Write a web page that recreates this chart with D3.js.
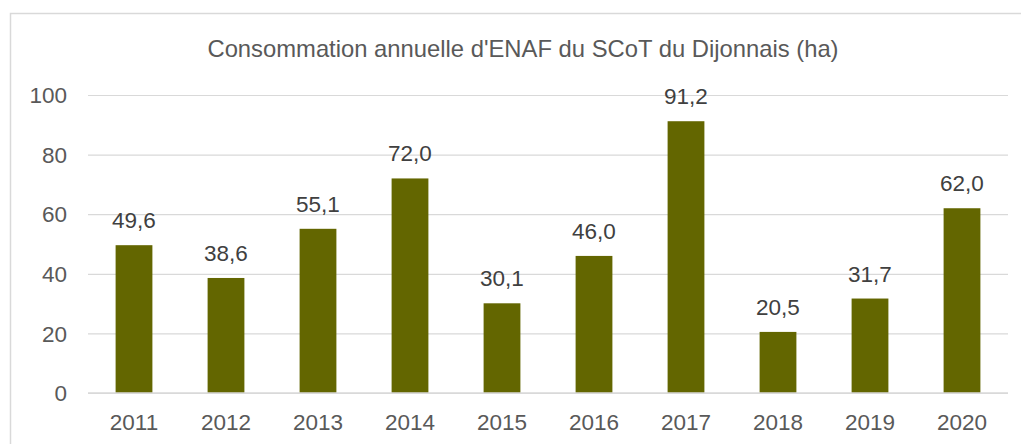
<!DOCTYPE html>
<html>
<head>
<meta charset="utf-8">
<script src="https://cdn.jsdelivr.net/npm/d3@7.9.0/dist/d3.min.js"></script>
<style>
  html, body { margin: 0; padding: 0; background: #fff; }
  svg { display: block; font-family: "Liberation Sans", Arial, sans-serif; }
</style>
</head>
<body>
<div id="chart"></div>
<script>
const years = ["2011", "2012", "2013", "2014", "2015", "2016", "2017", "2018", "2019", "2020"];
const values = [49.6, 38.6, 55.1, 72.0, 30.1, 46.0, 91.2, 20.5, 31.7, 62.0];
const yTicks = [0, 20, 40, 60, 80, 100];
const title = "Consommation annuelle d'ENAF du SCoT du Dijonnais (ha)";

const width = 1021;
const height = 444;
const plot = { left: 88, right: 1008, top: 95, bottom: 393 };

const svg = d3.select("#chart")
  .append("svg")
  .attr("width", width)
  .attr("height", height);

// chart frame (runs off the right and bottom edges)
svg.append("rect")
  .attr("x", 10.5)
  .attr("y", 13.5)
  .attr("width", 1030)
  .attr("height", 450)
  .attr("fill", "#fff")
  .attr("stroke", "#d9d9d9")
  .attr("stroke-width", 1.5);

const x = d3.scaleBand()
  .domain(years)
  .range([plot.left, plot.right])
  .paddingInner(0.6)
  .paddingOuter(0.3);

const y = d3.scaleLinear()
  .domain([0, 100])
  .range([plot.bottom, plot.top]);

const fmt = v => d3.format(".1f")(v).replace(".", ",");

// gridlines
svg.append("g")
  .attr("class", "grid")
  .attr("transform", `translate(${plot.left},0)`)
  .call(d3.axisLeft(y).tickValues(yTicks).tickFormat("").tickSize(-(plot.right - plot.left)))
  .call(g => g.select(".domain").remove())
  .call(g => g.selectAll("line").attr("stroke", "#d9d9d9").attr("stroke-width", 1.2));

// y labels
svg.append("g")
  .selectAll("text")
  .data(yTicks)
  .join("text")
  .attr("x", 67)
  .attr("y", d => y(d))
  .attr("dy", "0.36em")
  .attr("text-anchor", "end")
  .attr("font-size", 22.5)
  .attr("fill", "#595959")
  .text(d => d);

// bars
svg.append("g")
  .selectAll("rect")
  .data(values)
  .join("rect")
  .attr("x", (d, i) => x(years[i]))
  .attr("y", d => y(d))
  .attr("width", x.bandwidth())
  .attr("height", d => y(0) - y(d))
  .attr("fill", "#636600");

// baseline
svg.append("line")
  .attr("x1", plot.left)
  .attr("x2", plot.right)
  .attr("y1", y(0))
  .attr("y2", y(0))
  .attr("stroke", "#d9d9d9")
  .attr("stroke-width", 1.5);

// value labels
svg.append("g")
  .selectAll("text")
  .data(values)
  .join("text")
  .attr("x", (d, i) => x(years[i]) + x.bandwidth() / 2)
  .attr("y", d => y(d) - 17)
  .attr("text-anchor", "middle")
  .attr("font-size", 22.5)
  .attr("fill", "#404040")
  .text(d => fmt(d));

// x labels
svg.append("g")
  .selectAll("text")
  .data(years)
  .join("text")
  .attr("x", d => x(d) + x.bandwidth() / 2)
  .attr("y", 430)
  .attr("text-anchor", "middle")
  .attr("font-size", 22.5)
  .attr("fill", "#595959")
  .text(d => d);

// title
svg.append("text")
  .attr("x", 523)
  .attr("y", 57)
  .attr("text-anchor", "middle")
  .attr("font-size", 23.8)
  .attr("fill", "#595959")
  .text(title);
</script>
</body>
</html>
